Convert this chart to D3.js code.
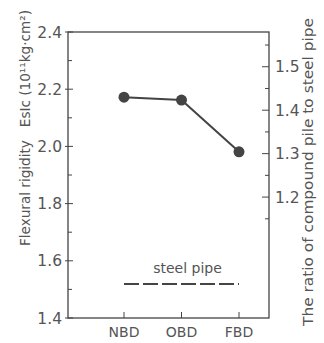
<!DOCTYPE html>
<html>
<head>
<meta charset="utf-8">
<script src="https://cdn.jsdelivr.net/npm/d3@7"></script>
<style>
  body { margin: 0; background: #fff; }
  text { font-family: "DejaVu Sans", "Liberation Sans", sans-serif; fill: #555; }
</style>
</head>
<body>
<svg id="chart" width="324" height="343"></svg>
<script>
// data
var categories = ["NBD", "OBD", "FBD"];
var rigidity = [2.172, 2.162, 1.981];
var steelPipe = 1.519;
var leftTicks = [1.4, 1.6, 1.8, 2.0, 2.2, 2.4];
var rightTicks = [1.2, 1.3, 1.4, 1.5];

var svg = d3.select("#chart");
var L = 68, T = 32, R = 269, B = 318;
var ink = "#444";

var x = d3.scalePoint().domain(categories).range([124, 239]);
var y = d3.scaleLinear().domain([1.4, 2.4]).range([B, T]);
// ratio axis: value divided by the steel pipe rigidity
var y2 = d3.scaleLinear().domain([1.4 / steelPipe, 2.4 / steelPipe]).range([B, T]);

// frame
svg.append("rect")
    .attr("x", L).attr("y", T)
    .attr("width", R - L).attr("height", B - T)
    .attr("fill", "none").attr("stroke", ink).attr("stroke-width", 1.3);

// left axis, ticks inward
var gl = svg.append("g").attr("transform", "translate(" + L + ",0)");
gl.selectAll("line.minor").data(d3.range(1.5, 2.4, 0.2)).enter().append("line")
    .attr("x1", 0).attr("x2", 4)
    .attr("y1", function(d) { return y(d); }).attr("y2", function(d) { return y(d); })
    .attr("stroke", ink);
gl.selectAll("line.major").data(leftTicks).enter().append("line")
    .attr("x1", -3).attr("x2", 5)
    .attr("y1", function(d) { return y(d); }).attr("y2", function(d) { return y(d); })
    .attr("stroke", ink);
gl.selectAll("text").data(leftTicks).enter().append("text")
    .attr("x", -6).attr("y", function(d) { return y(d) + 5.5; })
    .attr("text-anchor", "end").attr("font-size", 15.5)
    .text(function(d) { return d.toFixed(1); });

// right axis, ticks inward
var gr = svg.append("g").attr("transform", "translate(" + R + ",0)");
gr.selectAll("line.minor").data([1.15, 1.25, 1.35, 1.45, 1.55]).enter().append("line")
    .attr("x1", -4).attr("x2", 0)
    .attr("y1", function(d) { return y2(d); }).attr("y2", function(d) { return y2(d); })
    .attr("stroke", ink);
gr.selectAll("line.major").data(rightTicks).enter().append("line")
    .attr("x1", -7).attr("x2", 0)
    .attr("y1", function(d) { return y2(d); }).attr("y2", function(d) { return y2(d); })
    .attr("stroke", ink);
gr.selectAll("text").data(rightTicks).enter().append("text")
    .attr("x", 6).attr("y", function(d) { return y2(d) + 5.5; })
    .attr("font-size", 15.5)
    .text(function(d) { return d.toFixed(1); });

// bottom ticks + labels
var gb = svg.append("g").attr("transform", "translate(0," + B + ")");
gb.selectAll("line").data(categories).enter().append("line")
    .attr("x1", function(d) { return x(d); }).attr("x2", function(d) { return x(d); })
    .attr("y1", 0).attr("y2", -6)
    .attr("stroke", ink);
gb.selectAll("text").data(categories).enter().append("text")
    .attr("x", function(d) { return x(d); }).attr("y", 19)
    .attr("text-anchor", "middle").attr("font-size", 14)
    .text(function(d) { return d; });

// titles
svg.append("text")
    .attr("transform", "translate(30,128) rotate(-90)")
    .attr("text-anchor", "middle").attr("font-size", 14)
    .attr("textLength", 236).attr("lengthAdjust", "spacingAndGlyphs")
    .attr("xml:space", "preserve")
    .text("Flexural rigidity   EsIc (10¹¹kg·cm²)");
svg.append("text")
    .attr("transform", "translate(313,172) rotate(-90)")
    .attr("text-anchor", "middle").attr("font-size", 14.5)
    .attr("textLength", 308).attr("lengthAdjust", "spacingAndGlyphs")
    .text("The ratio of compound pile to steel pipe");

// steel pipe reference
svg.append("line")
    .attr("x1", x("NBD")).attr("x2", x("FBD"))
    .attr("y1", y(steelPipe)).attr("y2", y(steelPipe))
    .attr("stroke", ink).attr("stroke-width", 2)
    .attr("stroke-dasharray", "15,4");
svg.append("text")
    .attr("x", (x("NBD") + x("FBD")) / 2 + 6).attr("y", y(steelPipe) - 11)
    .attr("text-anchor", "middle").attr("font-size", 14)
    .text("steel pipe");

// series
var pts = categories.map(function(c, i) { return [c, rigidity[i]]; });
svg.append("path")
    .attr("d", d3.line().x(function(d) { return x(d[0]); }).y(function(d) { return y(d[1]); })(pts))
    .attr("fill", "none").attr("stroke", ink).attr("stroke-width", 2);
svg.selectAll("circle").data(pts).enter().append("circle")
    .attr("cx", function(d) { return x(d[0]); })
    .attr("cy", function(d) { return y(d[1]); })
    .attr("r", 5.5).attr("fill", ink);
</script>
</body>
</html>
